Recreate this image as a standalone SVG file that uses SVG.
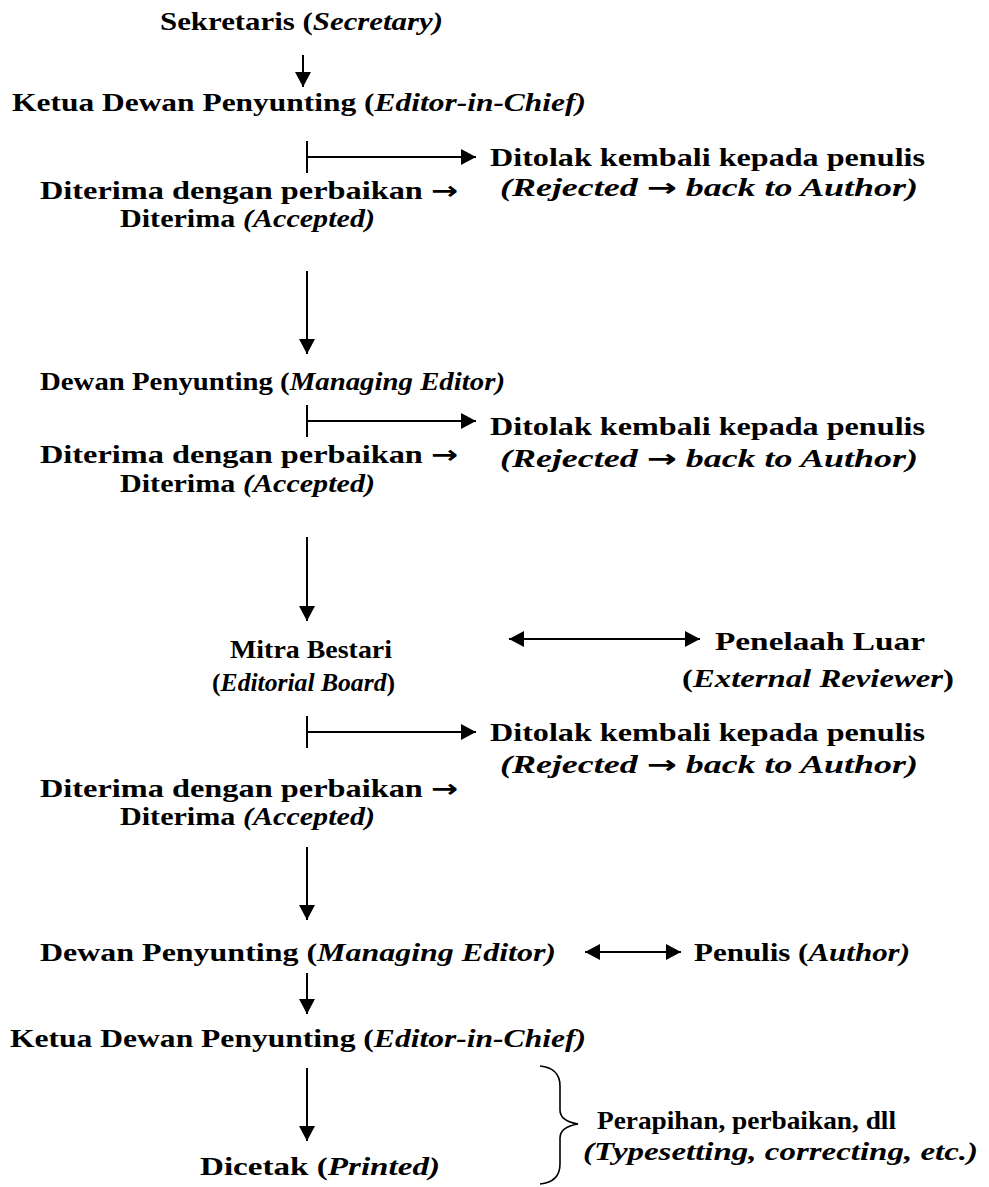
<svg xmlns="http://www.w3.org/2000/svg" width="989" height="1187" viewBox="0 0 989 1187">
<defs>
<style>
text{font-family:"Liberation Serif","Times New Roman",serif;font-weight:bold;font-size:25px;fill:#000}
.i{font-style:italic}
.a{font-family:"DejaVu Sans",sans-serif;font-style:normal;font-weight:bold}
.ln{stroke:#000;stroke-width:2;fill:none}
.br{stroke:#000;stroke-width:1.6;fill:none}
</style>
<marker id="ah" markerUnits="userSpaceOnUse" markerWidth="16" markerHeight="16" viewBox="0 0 15 16" refX="15" refY="8" orient="auto-start-reverse">
<path d="M0,0 L15,8 L0,16 z" fill="#000"/>
</marker>
</defs>
<rect width="989" height="1187" fill="#fff"/>

<g id="connectors">
<line class="ln" x1="303" y1="55" x2="303" y2="87" marker-end="url(#ah)"/>
<line class="ln" x1="307" y1="141" x2="307" y2="173"/>
<line class="ln" x1="307" y1="157" x2="476" y2="157" marker-end="url(#ah)"/>
<line class="ln" x1="307" y1="271" x2="307" y2="354" marker-end="url(#ah)"/>
<line class="ln" x1="307" y1="405" x2="307" y2="437"/>
<line class="ln" x1="307" y1="421" x2="476" y2="421" marker-end="url(#ah)"/>
<line class="ln" x1="307" y1="537" x2="307" y2="621" marker-end="url(#ah)"/>
<line class="ln" x1="509" y1="639" x2="700" y2="639" marker-start="url(#ah)" marker-end="url(#ah)"/>
<line class="ln" x1="307" y1="716" x2="307" y2="748"/>
<line class="ln" x1="307" y1="732" x2="476" y2="732" marker-end="url(#ah)"/>
<line class="ln" x1="307" y1="847" x2="307" y2="920" marker-end="url(#ah)"/>
<line class="ln" x1="585" y1="952" x2="681" y2="952" marker-start="url(#ah)" marker-end="url(#ah)"/>
<line class="ln" x1="307" y1="973" x2="307" y2="1014" marker-end="url(#ah)"/>
<line class="ln" x1="307" y1="1068" x2="307" y2="1141" marker-end="url(#ah)"/>
<path class="br" d="M540,1066 Q560,1068 560,1086 L560,1110 Q560,1121 578,1124 Q560,1127 560,1138 L560,1164 Q560,1182 540,1184"/>
</g>

<g id="n-sekretaris"><text x="160" y="30" textLength="283" lengthAdjust="spacingAndGlyphs">Sekretaris (<tspan class="i">Secretary)</tspan></text></g>
<g id="n-ketua1"><text x="12" y="111" textLength="574" lengthAdjust="spacingAndGlyphs">Ketua Dewan Penyunting (<tspan class="i">Editor-in-Chief)</tspan></text></g>
<g id="n-tolak1">
<text x="490" y="166" textLength="435" lengthAdjust="spacingAndGlyphs">Ditolak kembali kepada penulis</text>
<text class="i" x="500" y="196" textLength="418" lengthAdjust="spacingAndGlyphs">(Rejected <tspan class="a">→</tspan> back to Author)</text>
</g>
<g id="n-terima1">
<text x="40" y="199" textLength="418" lengthAdjust="spacingAndGlyphs">Diterima dengan perbaikan <tspan class="a">→</tspan></text>
<text x="120" y="227" textLength="255" lengthAdjust="spacingAndGlyphs">Diterima <tspan class="i">(Accepted)</tspan></text>
</g>
<g id="n-dewan1"><text x="40" y="390" textLength="465" lengthAdjust="spacingAndGlyphs">Dewan Penyunting (<tspan class="i">Managing Editor)</tspan></text></g>
<g id="n-tolak2">
<text x="490" y="435" textLength="435" lengthAdjust="spacingAndGlyphs">Ditolak kembali kepada penulis</text>
<text class="i" x="500" y="467" textLength="418" lengthAdjust="spacingAndGlyphs">(Rejected <tspan class="a">→</tspan> back to Author)</text>
</g>
<g id="n-terima2">
<text x="40" y="463" textLength="418" lengthAdjust="spacingAndGlyphs">Diterima dengan perbaikan <tspan class="a">→</tspan></text>
<text x="120" y="492" textLength="255" lengthAdjust="spacingAndGlyphs">Diterima <tspan class="i">(Accepted)</tspan></text>
</g>
<g id="n-mitra">
<text x="230" y="658" textLength="162" lengthAdjust="spacingAndGlyphs">Mitra Bestari</text>
<text x="212" y="691" textLength="183" lengthAdjust="spacingAndGlyphs">(<tspan class="i">Editorial Board</tspan>)</text>
</g>
<g id="n-penelaah">
<text x="715" y="650" textLength="210" lengthAdjust="spacingAndGlyphs">Penelaah Luar</text>
<text x="682" y="687" textLength="272" lengthAdjust="spacingAndGlyphs">(<tspan class="i">External Reviewer</tspan>)</text>
</g>
<g id="n-tolak3">
<text x="490" y="741" textLength="435" lengthAdjust="spacingAndGlyphs">Ditolak kembali kepada penulis</text>
<text class="i" x="500" y="773" textLength="418" lengthAdjust="spacingAndGlyphs">(Rejected <tspan class="a">→</tspan> back to Author)</text>
</g>
<g id="n-terima3">
<text x="40" y="797" textLength="418" lengthAdjust="spacingAndGlyphs">Diterima dengan perbaikan <tspan class="a">→</tspan></text>
<text x="120" y="825" textLength="255" lengthAdjust="spacingAndGlyphs">Diterima <tspan class="i">(Accepted)</tspan></text>
</g>
<g id="n-dewan2"><text x="40" y="961" textLength="516" lengthAdjust="spacingAndGlyphs">Dewan Penyunting (<tspan class="i">Managing Editor)</tspan></text></g>
<g id="n-penulis"><text x="694" y="961" textLength="216" lengthAdjust="spacingAndGlyphs">Penulis (<tspan class="i">Author)</tspan></text></g>
<g id="n-ketua2"><text x="10" y="1047" textLength="576" lengthAdjust="spacingAndGlyphs">Ketua Dewan Penyunting (<tspan class="i">Editor-in-Chief)</tspan></text></g>
<g id="n-dicetak"><text x="200" y="1175" textLength="240" lengthAdjust="spacingAndGlyphs">Dicetak (<tspan class="i">Printed)</tspan></text></g>
<g id="n-perapihan">
<text x="597" y="1129" textLength="299" lengthAdjust="spacingAndGlyphs">Perapihan, perbaikan, dll</text>
<text class="i" x="583" y="1160" textLength="395" lengthAdjust="spacingAndGlyphs">(Typesetting, correcting, etc.)</text>
</g>
</svg>
